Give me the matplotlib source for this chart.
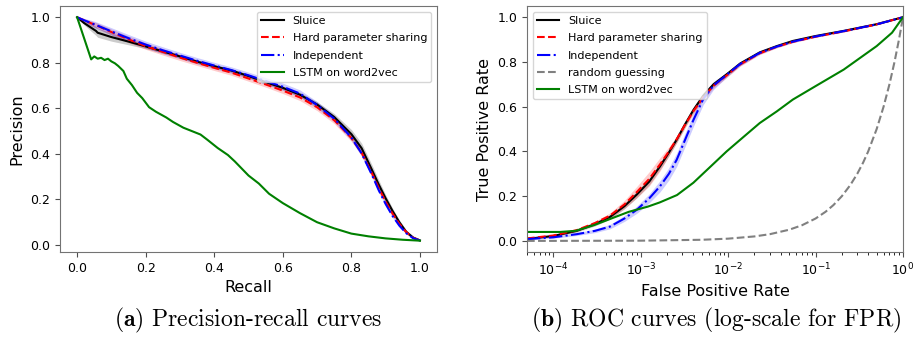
import numpy as np
import matplotlib
matplotlib.use("Agg")
import matplotlib.pyplot as plt

# ---- precision-recall data ----
pr_recall = [0, 0.02, 0.04, 0.055, 0.06, 0.1, 0.15, 0.2, 0.25, 0.3, 0.35, 0.4, 0.45, 0.5,
             0.55, 0.6, 0.65, 0.7, 0.75, 0.8, 0.83, 0.86, 0.88, 0.9, 0.92, 0.94, 0.96, 0.98, 1.0]
sluice_prec = [1.0, 0.975, 0.955, 0.94, 0.932, 0.913, 0.893, 0.872, 0.85, 0.828, 0.805, 0.785,
               0.766, 0.742, 0.715, 0.69, 0.66, 0.617, 0.562, 0.487, 0.425, 0.33, 0.265, 0.205,
               0.15, 0.1, 0.058, 0.033, 0.02]
hard_prec = [1.0, 0.987, 0.974, 0.965, 0.962, 0.935, 0.903, 0.873, 0.848, 0.823, 0.8, 0.778,
             0.757, 0.731, 0.705, 0.678, 0.648, 0.605, 0.548, 0.47, 0.405, 0.315, 0.25, 0.19,
             0.138, 0.093, 0.057, 0.032, 0.02]
indep_prec = [1.0, 0.987, 0.975, 0.966, 0.963, 0.938, 0.908, 0.88, 0.855, 0.832, 0.809, 0.788,
              0.768, 0.745, 0.72, 0.695, 0.665, 0.615, 0.555, 0.472, 0.402, 0.308, 0.24, 0.18,
              0.128, 0.085, 0.052, 0.03, 0.02]
sluice_prec_sd = [0, 0.008, 0.015, 0.02, 0.02, 0.018, 0.014, 0.01, 0.008, 0.008, 0.008, 0.008,
                  0.008, 0.008, 0.008, 0.008, 0.01, 0.012, 0.015, 0.02, 0.022, 0.022, 0.02, 0.016,
                  0.012, 0.01, 0.008, 0.005, 0.002]
hard_prec_sd = [0, 0.008, 0.01, 0.012, 0.012, 0.013, 0.014, 0.014, 0.014, 0.013, 0.012, 0.012,
                0.012, 0.012, 0.012, 0.013, 0.014, 0.015, 0.015, 0.015, 0.014, 0.012, 0.01, 0.01,
                0.008, 0.006, 0.005, 0.004, 0.002]
indep_prec_sd = [0, 0.008, 0.012, 0.014, 0.014, 0.016, 0.016, 0.015, 0.015, 0.014, 0.014, 0.014,
                 0.014, 0.014, 0.015, 0.016, 0.016, 0.015, 0.014, 0.013, 0.012, 0.01, 0.01, 0.009,
                 0.008, 0.006, 0.005, 0.004, 0.002]
lstm_recall = [0, 0.041, 0.05, 0.06, 0.07, 0.08, 0.09, 0.1, 0.11, 0.12, 0.135, 0.145, 0.16,
               0.175, 0.19, 0.21, 0.23, 0.26, 0.28, 0.31, 0.34, 0.36, 0.38, 0.41, 0.44, 0.46,
               0.5, 0.53, 0.56, 0.6, 0.65, 0.7, 0.75, 0.8, 0.85, 0.9, 0.95, 1.0]
lstm_prec = [1.0, 0.815, 0.828, 0.818, 0.822, 0.812, 0.818, 0.806, 0.798, 0.786, 0.764, 0.73,
             0.702, 0.668, 0.645, 0.605, 0.585, 0.56, 0.54, 0.515, 0.497, 0.485, 0.462, 0.426,
             0.395, 0.367, 0.305, 0.27, 0.225, 0.184, 0.14, 0.1, 0.073, 0.05, 0.038, 0.029,
             0.023, 0.019]

# ---- ROC data ----
roc_fpr = [5e-5, 1e-4, 1.85e-4, 3e-4, 4.45e-4, 6.5e-4, 9e-4, 1.25e-3, 1.66e-3, 2.1e-3,
           2.58e-3, 3.2e-3, 4e-3, 5.2e-3, 6.8e-3, 1e-2, 1.37e-2, 2.3e-2, 3.6e-2, 5.5e-2,
           0.1, 0.21, 0.5, 1.0]
sluice_tpr = [0.009, 0.022, 0.045, 0.075, 0.107, 0.155, 0.207, 0.265, 0.333, 0.395, 0.453,
              0.52, 0.585, 0.65, 0.7, 0.75, 0.793, 0.843, 0.871, 0.894, 0.916, 0.939,
              0.969, 1.0]
hard_tpr = [0.011, 0.024, 0.048, 0.08, 0.113, 0.163, 0.218, 0.277, 0.342, 0.4, 0.455, 0.518,
            0.58, 0.642, 0.694, 0.745, 0.789, 0.839, 0.868, 0.89, 0.913, 0.937, 0.968, 1.0]
indep_tpr = [0.008, 0.016, 0.03, 0.045, 0.064, 0.1, 0.139, 0.19, 0.244, 0.3, 0.363, 0.45,
             0.54, 0.635, 0.695, 0.748, 0.791, 0.841, 0.869, 0.891, 0.914, 0.938, 0.968, 1.0]
sluice_tpr_sd = [0.003, 0.004, 0.006, 0.008, 0.01, 0.012, 0.015, 0.015, 0.015, 0.015, 0.014,
                 0.013, 0.012, 0.011, 0.01, 0.008, 0.007, 0.006, 0.005, 0.004, 0.003, 0.003,
                 0.002, 0]
hard_tpr_sd = [0.003, 0.004, 0.006, 0.008, 0.012, 0.018, 0.025, 0.032, 0.03, 0.02, 0.015,
               0.014, 0.013, 0.012, 0.011, 0.009, 0.008, 0.006, 0.005, 0.004, 0.003, 0.003,
               0.002, 0]
indep_tpr_sd = [0.003, 0.004, 0.006, 0.008, 0.01, 0.013, 0.016, 0.02, 0.025, 0.028, 0.03,
                0.03, 0.028, 0.025, 0.018, 0.01, 0.008, 0.006, 0.005, 0.004, 0.003, 0.003,
                0.002, 0]
lstm_fpr = [5e-5, 1.2e-4, 1.8e-4, 2.9e-4, 4.6e-4, 7.3e-4, 1.2e-3, 1.65e-3, 2.6e-3, 4e-3,
            6.2e-3, 9.6e-3, 1.5e-2, 2.3e-2, 3.6e-2, 5.5e-2, 0.1, 0.21, 0.5, 0.75, 1.0]
lstm_tpr = [0.04, 0.04, 0.045, 0.07, 0.1, 0.13, 0.153, 0.172, 0.205, 0.26, 0.33, 0.4,
            0.465, 0.527, 0.579, 0.632, 0.692, 0.766, 0.871, 0.931, 1.0]
# the diagonal of the ROC space (random guessing)
guess_fpr = [5e-5, 1e-4, 1e-3, 5e-3, 0.01, 0.02, 0.03, 0.05, 0.07, 0.1, 0.13, 0.16, 0.2, 0.25,
             0.3, 0.35, 0.4, 0.5, 0.6, 0.7, 0.8, 0.9, 1.0]
guess_tpr = [5e-5, 1e-4, 1e-3, 5e-3, 0.01, 0.02, 0.03, 0.05, 0.07, 0.1, 0.13, 0.16, 0.2, 0.25,
             0.3, 0.35, 0.4, 0.5, 0.6, 0.7, 0.8, 0.9, 1.0]

plt.rcParams['mathtext.fontset'] = 'cm'

fig = plt.figure(figsize=(9.17, 3.37), dpi=100)
ax1 = fig.add_axes([0.0654, 0.252, 0.4112, 0.730])
ax2 = fig.add_axes([0.5747, 0.252, 0.4100, 0.730])


def band(ax, x, y, sd, color):
    y = np.array(y)
    sd = np.array(sd)
    ax.fill_between(x, y - sd, y + sd, color=color, alpha=0.2, linewidth=0)


# (a) precision-recall
band(ax1, pr_recall, sluice_prec, sluice_prec_sd, 'k')
band(ax1, pr_recall, hard_prec, hard_prec_sd, 'r')
band(ax1, pr_recall, indep_prec, indep_prec_sd, 'b')
ax1.plot(pr_recall, sluice_prec, color='k', lw=1.5, label='Sluice')
ax1.plot(pr_recall, hard_prec, color='r', ls='--', lw=1.5, label='Hard parameter sharing')
ax1.plot(pr_recall, indep_prec, color='b', ls='-.', lw=1.5, label='Independent')
ax1.plot(lstm_recall, lstm_prec, color='g', lw=1.5, label='LSTM on word2vec')
ax1.set_xlabel('Recall', fontsize=11.5)
ax1.set_ylabel('Precision', fontsize=11.5)
ax1.legend(loc='upper right', fontsize=8, labelspacing=0.65)

# (b) ROC
band(ax2, roc_fpr, sluice_tpr, sluice_tpr_sd, 'k')
band(ax2, roc_fpr, hard_tpr, hard_tpr_sd, 'r')
band(ax2, roc_fpr, indep_tpr, indep_tpr_sd, 'b')
ax2.plot(roc_fpr, sluice_tpr, color='k', lw=1.5, label='Sluice')
ax2.plot(roc_fpr, hard_tpr, color='r', ls='--', lw=1.5, label='Hard parameter sharing')
ax2.plot(roc_fpr, indep_tpr, color='b', ls='-.', lw=1.5, label='Independent')
ax2.plot(guess_fpr, guess_tpr, color='grey', ls='--', lw=1.5, label='random guessing')
ax2.plot(lstm_fpr, lstm_tpr, color='g', lw=1.5, label='LSTM on word2vec')
ax2.set_xscale('log')
ax2.set_xlim(5e-5, 1)
ax2.set_ylim(-0.05, 1.05)
ax2.set_xlabel('False Positive Rate', fontsize=11.5)
ax2.set_ylabel('True Positive Rate', fontsize=11.5)
ax2.legend(loc='upper left', fontsize=8, labelspacing=0.65)

for ax in (ax1, ax2):
    ax.tick_params(labelsize=9, color='0.3')
    for s in ax.spines.values():
        s.set_color('0.45')

fig.text(0.2705, 0.03, r'$\mathbf{(a)}$ Precision-recall curves', ha='center',
         fontsize=17, family='cmr10')
fig.text(0.781, 0.03, r'$\mathbf{(b)}$ ROC curves (log-scale for FPR)', ha='center',
         fontsize=17, family='cmr10')

fig.savefig('out.png', dpi=100)
